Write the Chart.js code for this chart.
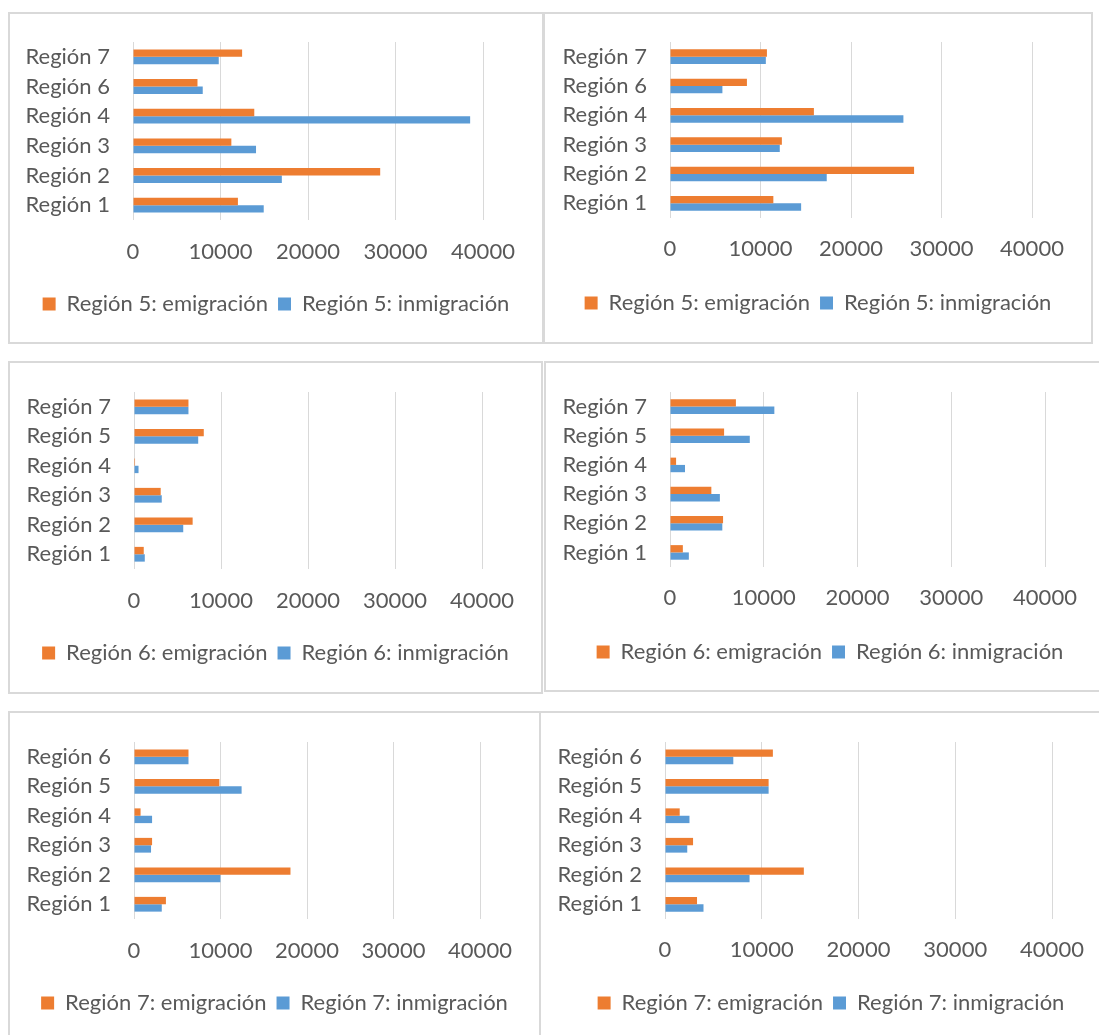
<!DOCTYPE html>
<html lang="es">
<head>
<meta charset="utf-8">
<title>Emigración e inmigración por región</title>
<script src="https://cdn.jsdelivr.net/npm/chart.js@4.4.1/dist/chart.umd.min.js"></script>
<style>
    html, body { margin: 0; padding: 0; background: #fff; overflow: hidden; }
    body { width: 1099px; height: 1035px; position: relative; }
    .panel { position: absolute; box-sizing: border-box; border: 2px solid #d9d9d9; background: #fff; overflow: hidden; }
    .panel canvas { display: block; }
</style>
</head>
<body>
<script>
// Categories (bottom to top as in the picture)
const catsR5 = ['Región 1', 'Región 2', 'Región 3', 'Región 4', 'Región 6', 'Región 7'];
const catsR6 = ['Región 1', 'Región 2', 'Región 3', 'Región 4', 'Región 5', 'Región 7'];
const catsR7 = ['Región 1', 'Región 2', 'Región 3', 'Región 4', 'Región 5', 'Región 6'];

// Left column charts
const r5EmigA  = [11990, 28250, 11240, 13860, 7370, 12470];
const r5InmigA = [14940, 17010, 14060, 38530, 7970, 9800];
const r6EmigA  = [1120, 6740, 3070, 120, 8020, 6260];
const r6InmigA = [1240, 5660, 3190, 520, 7380, 6260];
const r7EmigA  = [3690, 18090, 2090, 760, 9870, 6300];
const r7InmigA = [3210, 9990, 1970, 2090, 12440, 6300];

// Right column charts
const r5EmigB  = [11420, 26970, 12360, 15900, 8500, 10710];
const r5InmigB = [14490, 17320, 12130, 25790, 5790, 10590];
const r6EmigB  = [1370, 5660, 4410, 650, 5770, 7030];
const r6InmigB = [2010, 5580, 5320, 1600, 8510, 11130];
const r7EmigB  = [3310, 14350, 2900, 1520, 10710, 11150];
const r7InmigB = [3980, 8740, 2300, 2530, 10710, 7060];

const xTicks = [0, 10000, 20000, 30000, 40000];

const ORANGE = '#ED7D31';
const BLUE = '#5B9BD5';
const TEXT = '#595959';
const GRID = '#d9d9d9';
const FS = 22;

Chart.defaults.font.family = 'Lato, "Liberation Sans", sans-serif';
Chart.defaults.color = TEXT;

// page positions: box = [left, top, width, height], plot = [left, right, top, bottom]
const panels = [
    { box: [8, 12, 536, 332], plot: [133, 483, 42, 220], tickY: 252, legendY: 304, region: 'Región 5', cats: catsR5, emig: r5EmigA, inmig: r5InmigA },
    { box: [543, 12, 550, 332], plot: [670, 1032, 42, 218], tickY: 249, legendY: 303, region: 'Región 5', cats: catsR5, emig: r5EmigB, inmig: r5InmigB },
    { box: [8, 361, 535, 333], plot: [134, 482, 392, 569], tickY: 601, legendY: 653, region: 'Región 6', cats: catsR6, emig: r6EmigA, inmig: r6InmigA },
    { box: [544, 361, 572, 331], plot: [670, 1045, 392, 567], tickY: 598, legendY: 652, region: 'Región 6', cats: catsR6, emig: r6EmigB, inmig: r6InmigB },
    { box: [8, 711, 533, 340], plot: [134, 480, 742, 919], tickY: 951, legendY: 1003, region: 'Región 7', cats: catsR7, emig: r7EmigA, inmig: r7InmigA },
    { box: [539, 711, 584, 340], plot: [665, 1052, 742, 919], tickY: 950, legendY: 1003, region: 'Región 7', cats: catsR7, emig: r7EmigB, inmig: r7InmigB }
];

panels.forEach(function(p) {
    const [bl, bt, bw, bh] = p.box;
    const ix = bl + 2, iy = bt + 2, iw = bw - 4, ih = bh - 4;
    const [L, R, T, B] = p.plot;

    const div = document.createElement('div');
    div.className = 'panel';
    div.style.left = bl + 'px';
    div.style.top = bt + 'px';
    div.style.width = bw + 'px';
    div.style.height = bh + 'px';
    const canvas = document.createElement('canvas');
    canvas.width = iw;
    canvas.height = ih;
    canvas.style.width = iw + 'px';
    canvas.style.height = ih + 'px';
    div.appendChild(canvas);
    document.body.appendChild(div);

    // legend box: height = FS + padding + 10, text centre = top + padding + FS/2
    const legendPad = 10;
    const legendTop = p.legendY - legendPad - FS / 2;
    const legendBottom = legendTop + FS + legendPad + 10;
    const lineH = FS * 1.2;

    // top of the picture is the last region, so reverse for the category axis
    const labels = p.cats.slice().reverse();

    new Chart(canvas, {
        type: 'bar',
        data: {
            labels: labels,
            datasets: [
                { label: p.region + ': emigración', data: p.emig.slice().reverse(), backgroundColor: ORANGE, borderWidth: 0 },
                { label: p.region + ': inmigración', data: p.inmig.slice().reverse(), backgroundColor: BLUE, borderWidth: 0 }
            ]
        },
        options: {
            indexAxis: 'y',
            responsive: false,
            animation: false,
            categoryPercentage: 0.5,
            barPercentage: 1.0,
            layout: {
                padding: { top: T - iy, bottom: iy + ih - legendBottom, left: 0, right: 0 }
            },
            plugins: {
                legend: {
                    position: 'bottom',
                    labels: {
                        boxWidth: 13,
                        boxHeight: 13,
                        padding: legendPad,
                        color: TEXT,
                        font: { size: FS }
                    }
                },
                tooltip: { enabled: false }
            },
            scales: {
                x: {
                    min: xTicks[0],
                    max: xTicks[xTicks.length - 1],
                    afterBuildTicks: function(scale) {
                        scale.ticks = xTicks.map(v => ({ value: v }));
                    },
                    afterFit: function(scale) { scale.height = legendTop - B; },
                    grid: { color: GRID, lineWidth: 1, drawTicks: false },
                    border: { display: false },
                    ticks: {
                        padding: p.tickY - B - lineH / 2,
                        font: { size: FS },
                        color: TEXT,
                        callback: v => String(v)
                    }
                },
                y: {
                    grid: { display: false, drawTicks: false },
                    border: { display: false },
                    afterFit: function(scale) {
                        scale.width = L - ix;
                        // labels sit inside their bands, no overhang needed
                        scale.paddingTop = 0;
                        scale.paddingBottom = 0;
                    },
                    ticks: { padding: 23, autoSkip: false, font: { size: FS }, color: TEXT }
                },
                yr: {
                    type: 'category',
                    position: 'right',
                    labels: labels,
                    grid: { display: false, drawTicks: false },
                    border: { display: false },
                    ticks: { display: false },
                    afterFit: function(scale) {
                        scale.width = ix + iw - R;
                        scale.paddingTop = 0;
                        scale.paddingBottom = 0;
                    }
                }
            }
        }
    });
});
</script>
</body>
</html>
